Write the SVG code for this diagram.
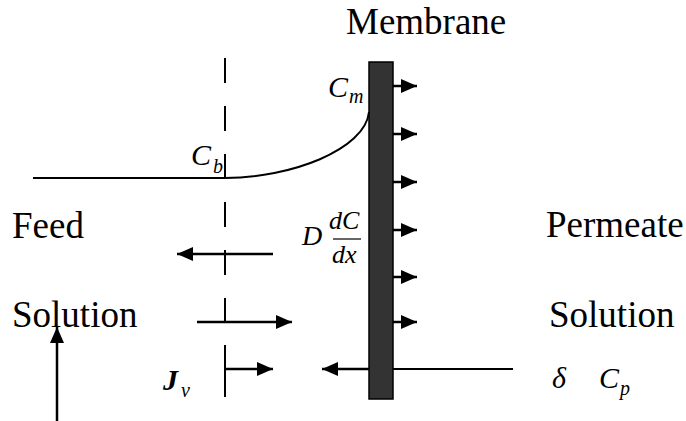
<svg xmlns="http://www.w3.org/2000/svg" width="686" height="421" viewBox="0 0 686 421">
<style>
.t{font-family:"Liberation Serif","Times New Roman",serif;fill:#000}
.lbl{font-size:37px}
.it{font-style:italic}
.ln{stroke:#000;stroke-width:2;fill:none}
.ar{stroke:#000;stroke-width:2.5;fill:none;marker-end:url(#ah)}
</style>
<defs>
<marker id="ah" markerUnits="userSpaceOnUse" markerWidth="16" markerHeight="14" refX="16" refY="7" orient="auto">
<path d="M0,0 L16,7 L0,14 z" fill="#000"/>
</marker>
</defs>
<g id="membrane">
<rect x="369" y="62" width="24" height="337" fill="#333" stroke="#000" stroke-width="1.5"/>
<text class="t lbl" x="346" y="34">Membrane</text>
</g>
<g id="feed">
<text class="t lbl" x="12" y="238">Feed</text>
<text class="t lbl" x="12" y="327">Solution</text>
</g>
<g id="permeate">
<text class="t lbl" x="546" y="237">Permeate</text>
<text class="t lbl" x="549" y="327">Solution</text>
</g>
<g id="labels">
<text class="t it" x="328" y="97" font-size="30">C</text>
<text class="t it" x="349" y="103" font-size="20">m</text>
<text class="t it" x="191" y="165" font-size="30">C</text>
<text class="t it" x="213" y="173" font-size="20">b</text>
<text class="t it" x="163" y="390" font-size="30" font-weight="bold">J</text>
<text class="t it" x="181" y="397" font-size="20">v</text>
<text class="t it" x="302" y="245" font-size="28">D</text>
<text class="t it" x="329" y="229" font-size="26">dC</text>
<line x1="333" y1="239" x2="361" y2="239" stroke="#000" stroke-width="1.2"/>
<text class="t it" x="332" y="263" font-size="26">dx</text>
<text class="t it" x="552" y="388" font-size="30">δ</text>
<text class="t it" x="599" y="388" font-size="30">C</text>
<text class="t it" x="620" y="395" font-size="20">p</text>
</g>
<g id="connectors">
<path class="ln" d="M225,58 V83 M225,106 V131 M225,154 V178 M225,202 V227 M225,250 V275 M225,298 V323 M225,345 V397"/>
<path class="ln" d="M33,178 H225 C290,178 365,150 369,112"/>
<line class="ar" x1="393" y1="86" x2="417" y2="86"/>
<line class="ar" x1="393" y1="134" x2="417" y2="134"/>
<line class="ar" x1="393" y1="182" x2="417" y2="182"/>
<line class="ar" x1="393" y1="230" x2="417" y2="230"/>
<line class="ar" x1="393" y1="277" x2="417" y2="277"/>
<line class="ar" x1="393" y1="322" x2="417" y2="322"/>
<line class="ln" x1="393" y1="369" x2="513" y2="369"/>
<line class="ar" x1="369" y1="369" x2="322" y2="369"/>
<line class="ar" x1="225" y1="369" x2="273" y2="369"/>
<line class="ar" x1="273" y1="254" x2="177" y2="254"/>
<line class="ar" x1="197" y1="322" x2="292" y2="322"/>
<line class="ar" x1="57" y1="421" x2="57" y2="327"/>
</g>
</svg>
